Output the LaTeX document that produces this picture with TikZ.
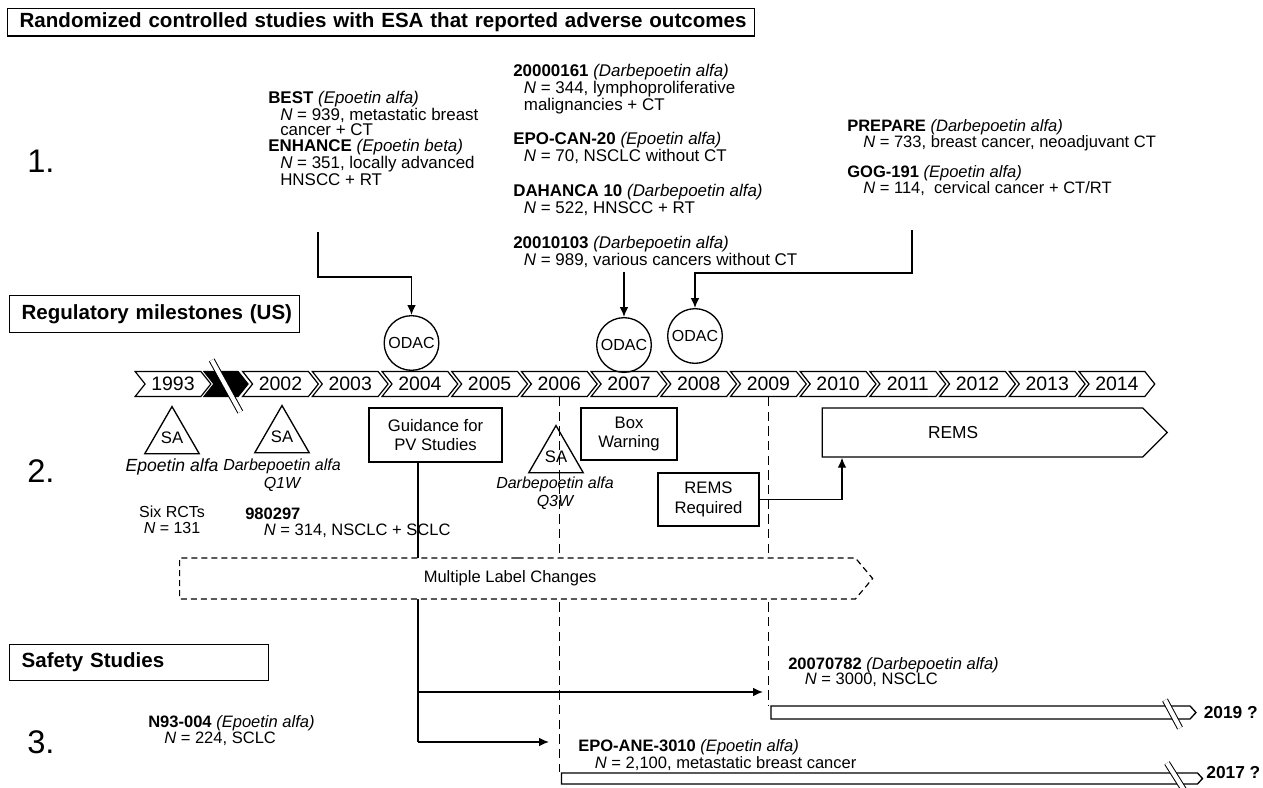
\documentclass[tikz,border=0pt]{standalone}
\usepackage{fontspec}
\setmainfont{Liberation Sans}
\usepackage{tikz}
\usetikzlibrary{shapes.geometric, shapes.symbols, arrows.meta, positioning, calc, backgrounds}

\newcommand{\trial}[2]{\textbf{#1} \textit{(#2)}}
\newcommand{\ind}[1]{\hspace*{#1pt}}

\begin{document}
\begin{tikzpicture}[
    x=0.75pt, y=-0.75pt,
    every node/.style={font=\fontsize{12}{11.6}\selectfont, inner sep=0pt},
    txt/.style={align=left, anchor=north west, font=\fontsize{12.7}{11.4}\selectfont},
    hdr/.style={rectangle, draw, line width=1pt, anchor=north west, align=left, inner xsep=9pt, font=\fontsize{15.4}{18}\selectfont\bfseries},
    box/.style={rectangle, draw, line width=1pt, fill=white, align=center, font=\fontsize{12.5}{14.5}\selectfont},
    yrbox/.style={signal, signal from=west, signal to=east, signal pointer angle=103, draw, line width=0.9pt, minimum width=56.8pt, minimum height=18.75pt, font=\fontsize{14.6}{16}\selectfont},
    odac/.style={circle, draw, line width=1pt, minimum size=41pt, font=\fontsize{12}{14}\selectfont},
    sa/.style={regular polygon, regular polygon sides=3, draw, line width=1pt, minimum size=38pt, font=\fontsize{12.5}{14}\selectfont},
    drug/.style={align=center, anchor=north, font=\fontsize{12}{13.5}\selectfont\itshape},
    arrowbox/.style={signal, signal to=east, draw, line width=1pt, fill=white},
    bar/.style={signal, signal to=east, signal pointer angle=95, draw, line width=1pt, fill=white},
    brk/.style={draw, line width=0.75pt, double=white, double distance=3.2pt},
    line/.style={draw, line width=1pt, -{Latex[length=7.5pt, width=6.5pt]}},
    dashline/.style={draw, line width=1pt, dash pattern=on 7pt off 4pt},
    num/.style={anchor=base west, font=\fontsize{24.5}{26}\selectfont},
    endyr/.style={font=\fontsize{13}{15}\selectfont\bfseries}
]
\useasboundingbox (0,0) rectangle (1263,788);

% Section headers
\node[hdr, text width=542pt, minimum height=20.5pt] (hdr1) at (7,8) {\mbox{Randomized controlled studies with ESA that reported adverse outcomes}};
\node[hdr, text width=199.5pt, minimum height=27.75pt] (hdr2) at (9,295) {\mbox{Regulatory milestones (US)}};
\node[hdr, text width=176.25pt, minimum height=27pt] (hdr3) at (9,644) {\mbox{Safety Studies}};

\node[num] (n1) at (27,172) {1.};
\node[num] (n2) at (27,482) {2.};
\node[num] (n3) at (27,753) {3.};

% 1. Randomized studies
\node[txt] (best) at (268,90.8) {\trial{BEST}{Epoetin alfa}\\\ind{9}\textit{N} = 939, metastatic breast\\\ind{9}cancer + CT};
\node[txt] (enhance) at (268,138.8) {\trial{ENHANCE}{Epoetin beta}\\\ind{9}\textit{N} = 351, locally advanced\\\ind{9}HNSCC + RT};
\node[txt] (s161) at (513,63.8) {\trial{20000161}{Darbepoetin alfa}\\\ind{8}\textit{N} = 344, lymphoproliferative\\\ind{8}malignancies + CT};
\node[txt] (epocan) at (513,131.8) {\trial{EPO-CAN-20}{Epoetin alfa}\\\ind{8}\textit{N} = 70, NSCLC without CT};
\node[txt] (dahanca) at (513,183.8) {\trial{DAHANCA 10}{Darbepoetin alfa}\\\ind{8}\textit{N} = 522, HNSCC + RT};
\node[txt] (s103) at (513,235.8) {\trial{20010103}{Darbepoetin alfa}\\\ind{8}\textit{N} = 989, various cancers without CT};
\node[txt, font=\fontsize{12.4}{12}\selectfont] (prepare) at (847,118.8) {\trial{PREPARE}{Darbepoetin alfa}\\\ind{12}\textit{N} = 733, breast cancer, neoadjuvant CT};
\node[txt, font=\fontsize{12.4}{12.5}\selectfont] (gog) at (847,164.8) {\trial{GOG-191}{Epoetin alfa}\\\ind{12}\textit{N} = 114,\ \ cervical cancer + CT/RT};

% ODAC meetings
\node[odac] (odac1) at (411.5,343) {ODAC};
\node[odac] (odac2) at (624,345) {ODAC};
\node[odac] (odac3) at (695,336) {ODAC};

\coordinate (enh) at (318,232);
\coordinate (enhk) at (318,277);
\coordinate (dar) at (624,272);
\coordinate (gogs) at (912,230);
\coordinate (gogk) at (912,273);

\path[line] (enh) -- (enhk) -| (odac1.north);
\path[line] (dar) -- (odac2.north);
\path[line] (gogs) -- (gogk) -| (odac3.north);

% 2. Timeline
\node[yrbox] (y1993) at (173,384) {1993};
\node[yrbox, fill=black, minimum width=33pt] (ygap) at (226,384) {};
\foreach \yr [count=\i from 0] in {2002,...,2014}
    \node[yrbox] (y\yr) at ({280.5+69.7*\i},384) {\yr};
\draw[brk] (211.7,360) -- (240.3,412);

\node[sa] (sa1) at (172,438) {SA};
\node[sa] (sa2) at (282,437) {SA};
\node[sa] (sa3) at (556,457) {SA};
\node[drug, font=\fontsize{13.2}{13.5}\selectfont\itshape] (sa1lab) at (172,458) {Epoetin alfa};
\node[drug] (sa2lab) at (282,459) {Darbepoetin alfa\\Q1W};
\node[drug] (sa3lab) at (555,477) {Darbepoetin alfa\\Q3W};

\node[align=center, anchor=north, font=\fontsize{12}{12}\selectfont] (sixrct) at (172,506) {Six RCTs\\\textit{N} = 131};
\node[txt, font=\fontsize{12.4}{12}\selectfont] (s297) at (245,507.8) {\textbf{980297}\\\ind{14}\textit{N} = 314, NSCLC + SCLC};

\node[box, minimum width=99.75pt, minimum height=40.5pt] (guide) at (435.5,435) {Guidance for\\PV Studies};
\node[box, minimum width=72pt, minimum height=39pt] (boxwarn) at (629,434) {Box\\Warning};
\node[box, minimum width=75.75pt, minimum height=39.75pt] (remsreq) at (708.5,499.5) {REMS\\Required};
\node[arrowbox, signal pointer angle=90, minimum width=258.75pt, minimum height=36.75pt,
    label={[xshift=-22pt, font=\fontsize{13}{15}\selectfont]center:REMS}] (rems) at (982.5,432.5) {};
\path[line] (remsreq.east) -| ($(rems.south)+(-140.5,0)$);

\node[arrowbox, line width=0.9pt, dash pattern=on 4.5pt off 3pt, signal pointer angle=100, minimum width=519.75pt, minimum height=30.75pt,
    label={[xshift=-5.5pt, font=\fontsize{12.4}{14}\selectfont]center:Multiple Label Changes}] (mlc) at (517.5,578.5) {};

% 3. Safety studies
\node[txt, font=\fontsize{12.4}{12}\selectfont] (n93) at (148,714.8) {\trial{N93-004}{Epoetin alfa}\\\ind{12}\textit{N} = 224, SCLC};
\node[txt, font=\fontsize{12.4}{11.4}\selectfont] (s782) at (788,656.8) {\trial{20070782}{Darbepoetin alfa}\\\ind{12.5}\textit{N} = 3000, NSCLC};
\node[txt, font=\fontsize{12.4}{13.3}\selectfont] (epoane) at (578,738.8) {\trial{EPO-ANE-3010}{Epoetin alfa}\\\ind{12.5}\textit{N} = 2,100, metastatic breast cancer};

\node[bar, minimum width=318.75pt, minimum height=9.75pt] (bar1) at (980.5,712.5) {};
\node[bar, minimum width=480.75pt, minimum height=8.25pt] (bar2) at (879.5,778.5) {};
\draw[brk] (1165,700) -- (1180,728);
\draw[brk] (1167,763) -- (1184,790);
\node[endyr, right=5pt of bar1] (end1) {2019 ?};
\node[endyr, right=2pt of bar2, yshift=4.5pt] (end2) {2017 ?};

\coordinate (t1) at (763,692);
\coordinate (t2) at (549,742);
\coordinate (g0) at ($(guide.south)+(-17.5,0)$);

\begin{pgfonlayer}{background}
\path[dashline] (y2006.south) -- (y2006.south |- bar2.north);
\path[dashline] (y2009.south) -- (y2009.south |- bar1.north);
\path[draw, line width=1pt] (g0) -- (g0 |- t2);
\end{pgfonlayer}
\path[line] (g0 |- t2) -- (t2);
\path[line] (g0 |- t1) -- (t1);

\end{tikzpicture}
\end{document}
